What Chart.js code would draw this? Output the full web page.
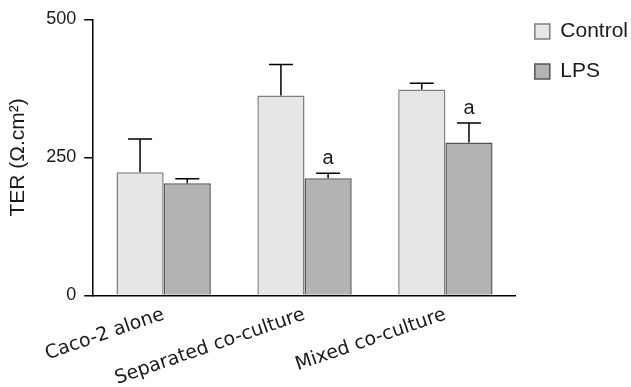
<!DOCTYPE html>
<html>
<head>
<meta charset="utf-8">
<script src="https://cdn.jsdelivr.net/npm/chart.js@4"></script>
<style>
  body { margin: 0; background: #fff; }
</style>
</head>
<body>
<canvas id="canvas" width="631" height="387"></canvas>
<script>
// values
var categories = ['Caco-2 alone', 'Separated co-culture', 'Mixed co-culture'];
var controlMean = [223, 362, 373];
var controlErr = [60, 56, 11];
var lpsMean = [203, 212, 277];
var lpsErr = [8, 9, 35];
var lpsMarks = ['', 'a', 'a'];
var yTicks = [0, 250, 500];

var textColor = '#1a1a1a';
var arial = '"Liberation Sans", Arial, sans-serif';

// error bars + significance letters
var errorBars = {
	id : 'errorBars',
	afterDatasetsDraw : function(chart) {
		var ctx = chart.ctx;
		var y = chart.scales.y;
		ctx.save();
		ctx.strokeStyle = '#000';
		ctx.lineWidth = 1.5;
		chart.data.datasets.forEach(function(ds, i) {
			var meta = chart.getDatasetMeta(i);
			meta.data.forEach(function(bar, j) {
				var top = y.getPixelForValue(ds.data[j] + ds.errors[j]);
				var base = y.getPixelForValue(ds.data[j]);
				ctx.beginPath();
				ctx.moveTo(bar.x, base);
				ctx.lineTo(bar.x, top);
				ctx.moveTo(bar.x - 12, top);
				ctx.lineTo(bar.x + 12, top);
				ctx.stroke();
				if (ds.marks && ds.marks[j]) {
					ctx.fillStyle = textColor;
					ctx.font = '20px ' + arial;
					ctx.textAlign = 'center';
					ctx.textBaseline = 'bottom';
					ctx.fillText(ds.marks[j], bar.x, top - 5);
				}
			});
		});
		ctx.restore();
	}
};

window.onload = function() {
	var ctx = document.getElementById('canvas').getContext('2d');
	window.myBar = new Chart(ctx, {
		type : 'bar',
		data : {
			labels : categories,
			datasets : [ {
				label : 'Control',
				data : controlMean,
				errors : controlErr,
				backgroundColor : '#e6e6e6',
				borderColor : '#7f7f7f',
				borderWidth : 1.5,
				categoryPercentage : 0.67,
				barPercentage : 1
			}, {
				label : 'LPS',
				data : lpsMean,
				errors : lpsErr,
				marks : lpsMarks,
				backgroundColor : '#b3b3b3',
				borderColor : '#555555',
				borderWidth : 1.5,
				categoryPercentage : 0.67,
				barPercentage : 1
			} ]
		},
		options : {
			responsive : false,
			animation : false,
			layout : {
				padding : { top : 2, right : -7, bottom : -3, left : 6 }
			},
			plugins : {
				legend : {
					position : 'right',
					align : 'start',
					labels : {
						boxWidth : 15,
						boxHeight : 15,
						padding : 19,
						color : textColor,
						font : { family : arial, size : 21, lineHeight : 1.0 }
					}
				},
				tooltip : { enabled : false }
			},
			scales : {
				x : {
					grid : { display : false },
					border : { color : '#000', width : 1.5 },
					ticks : {
						color : textColor,
						minRotation : 19,
						maxRotation : 19,
						padding : 0,
						font : { family : '"DejaVu Sans", Verdana, sans-serif', size : 19 }
					}
				},
				y : {
					min : 0,
					max : 500,
					afterBuildTicks : function(axis) {
						axis.ticks = yTicks.map(function(v) { return { value : v }; });
					},
					grid : {
						drawOnChartArea : false,
						color : '#000',
						lineWidth : 1.5,
						tickLength : 9
					},
					border : { color : '#000', width : 1.5 },
					ticks : {
						color : textColor,
						padding : 8,
						font : { family : arial, size : 18, lineHeight : 1.25 }
					},
					title : {
						display : true,
						text : 'TER (Ω.cm²)',
						color : textColor,
						padding : { top : 0, bottom : 7 },
						font : { family : arial, size : 21 }
					}
				}
			}
		},
		plugins : [ errorBars ]
	});
};
</script>
</body>
</html>
